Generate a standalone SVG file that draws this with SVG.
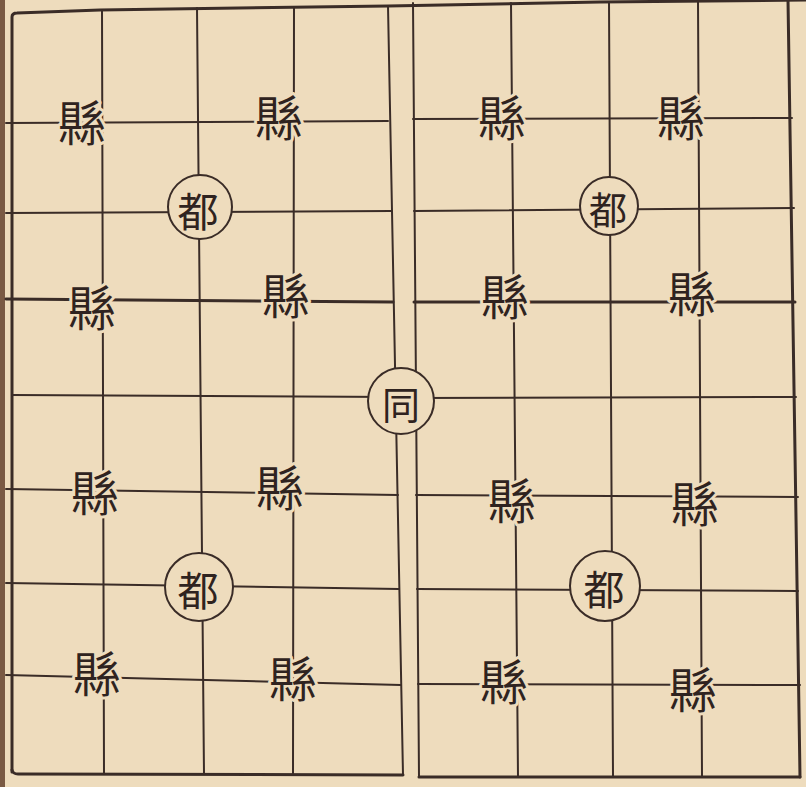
<svg xmlns="http://www.w3.org/2000/svg" width="806" height="787" viewBox="0 0 806 787">
<style>
.ln{fill:none;stroke:#3a2c27;stroke-width:2;stroke-linecap:round;stroke-linejoin:round}
.th{stroke-width:3}
.ring{fill:#eedcbd;stroke:#3a2c27;stroke-width:2}
.xian{font-family:"Noto Sans CJK TC","Noto Sans CJK SC",sans-serif;font-size:48px;fill:#2f2320;text-anchor:middle;dominant-baseline:central;stroke:#eedcbd;stroke-width:6;paint-order:stroke;stroke-linejoin:round}
.du{font-family:"Noto Sans CJK TC","Noto Sans CJK SC",sans-serif;font-size:41px;fill:#2f2320;text-anchor:middle;dominant-baseline:central}
</style>
<rect x="0" y="0" width="806" height="787" fill="#eedcbd"/>
<rect x="0" y="0" width="5" height="787" fill="#7a5a44"/>
<g id="grid">
  <path class="ln th" d="M12,772 L12,17 Q12,13 17,13 L100,10 L388,6 L600,2 L806,0"/>
  <path class="ln th" d="M12,770 Q13,774 18,774 L403,775"/>
  <path class="ln th" d="M419,777 L800,777"/>
  <path class="ln th" d="M788,0 L800,777"/>
  <path class="ln" d="M388,6 L403,775"/>
  <path class="ln" d="M413,3 L419,777"/>
  <path class="ln" d="M6,123 L388,121"/>
  <path class="ln" d="M6,213 L391,211"/>
  <path class="ln th" d="M6,299 L393,302"/>
  <path class="ln" d="M12,395 L396,397"/>
  <path class="ln" d="M6,489 L398,495"/>
  <path class="ln" d="M6,583 L399,589"/>
  <path class="ln" d="M6,675 L401,685"/>
  <path class="ln" d="M413,119 L792,118"/>
  <path class="ln" d="M414,211 L794,208"/>
  <path class="ln th" d="M414,302 L795,302"/>
  <path class="ln" d="M416,398 L796,397"/>
  <path class="ln" d="M416,495 L798,497"/>
  <path class="ln" d="M417,589 L798,591"/>
  <path class="ln" d="M418,684 L800,685"/>
  <path class="ln" d="M396,397 L416,398"/>
  <path class="ln" d="M102,10 L104,774"/>
  <path class="ln" d="M197,8 L204,774"/>
  <path class="ln" d="M294,7 L293,775"/>
  <path class="ln" d="M511,3 L518,777"/>
  <path class="ln" d="M609,2 L613,777"/>
  <path class="ln" d="M698,1 L702,777"/>
</g>
<g id="node-du-1"><circle class="ring" cx="200" cy="207" r="32"/><text class="du" x="198" y="209">都</text></g>
<g id="node-du-2"><circle class="ring" cx="609" cy="206" r="29"/><text class="du" x="608" y="207" style="font-size:38px">都</text></g>
<g id="node-du-3"><circle class="ring" cx="199" cy="587" r="34"/><text class="du" x="198" y="588">都</text></g>
<g id="node-du-4"><circle class="ring" cx="605" cy="586" r="35"/><text class="du" x="604" y="587">都</text></g>
<g id="node-tong"><circle class="ring" cx="401" cy="401" r="33"/><text class="du" x="401" y="402" style="font-size:38px">同</text></g>
<g id="node-xian-1"><text class="xian" x="82" y="120">縣</text></g>
<g id="node-xian-2"><text class="xian" x="279" y="115">縣</text></g>
<g id="node-xian-3"><text class="xian" x="92" y="305">縣</text></g>
<g id="node-xian-4"><text class="xian" x="286" y="293">縣</text></g>
<g id="node-xian-5"><text class="xian" x="502" y="115">縣</text></g>
<g id="node-xian-6"><text class="xian" x="681" y="115">縣</text></g>
<g id="node-xian-7"><text class="xian" x="505" y="294">縣</text></g>
<g id="node-xian-8"><text class="xian" x="692" y="291">縣</text></g>
<g id="node-xian-9"><text class="xian" x="95" y="490">縣</text></g>
<g id="node-xian-10"><text class="xian" x="280" y="485">縣</text></g>
<g id="node-xian-11"><text class="xian" x="97" y="671">縣</text></g>
<g id="node-xian-12"><text class="xian" x="293" y="676">縣</text></g>
<g id="node-xian-13"><text class="xian" x="512" y="498">縣</text></g>
<g id="node-xian-14"><text class="xian" x="695" y="501">縣</text></g>
<g id="node-xian-15"><text class="xian" x="504" y="679">縣</text></g>
<g id="node-xian-16"><text class="xian" x="693" y="687">縣</text></g>
</svg>
